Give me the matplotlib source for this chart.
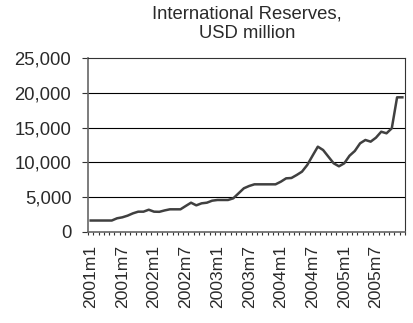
import matplotlib
matplotlib.use('Agg')
import matplotlib.pyplot as plt
from matplotlib.ticker import FuncFormatter, FixedLocator

plt.rcParams['font.family'] = ['Liberation Sans', 'DejaVu Sans']

# months 2001m1 .. 2005m12
months = [str(y) + 'm' + str(m) for y in range(2001, 2006) for m in range(1, 13)]
reserves = [1650, 1650, 1650, 1650, 1650, 1970, 2110, 2350, 2680, 2920,
            2920, 3200, 2920, 2900, 3100, 3260, 3260, 3260, 3740, 4210,
            3830, 4120, 4210, 4500, 4600, 4600, 4600, 4840, 5560, 6280,
            6610, 6850, 6850, 6850, 6850, 6850, 7230, 7710, 7760, 8190,
            8670, 9630, 10960, 12260, 11780, 10820, 9870, 9440, 9870, 10960,
            11640, 12740, 13220, 12980, 13550, 14410, 14180, 14900, 19350, 19350]
yticks = [0, 5000, 10000, 15000, 20000, 25000]
title = 'International Reserves,\nUSD million'

fig = plt.figure(figsize=(4.14, 3.23), dpi=100)
ax = fig.add_axes([88/414, 1-232/323, (405-88)/414, (232-58)/323])

x = list(range(len(months)))
ax.plot(x, reserves, color='#404040', lw=1.8, solid_joinstyle='round')

ax.set_xlim(-0.5, len(months)-0.5)
ax.set_ylim(0, 25000)
ax.set_yticks(yticks)
ax.yaxis.set_major_formatter(FuncFormatter(lambda v, p: format(int(v), ',')))
for v in yticks[1:-1]:
    ax.axhline(v, color='black', lw=0.8, zorder=0)

ax.set_xticks(x[::6])
ax.set_xticklabels(months[::6], rotation=90)
ax.xaxis.set_minor_locator(FixedLocator([i-0.5 for i in range(len(months)+1)]))
ax.tick_params(axis='x', which='major', length=0, pad=9, labelsize=12.6, labelcolor='#2a2a2a')
ax.tick_params(axis='x', which='minor', length=2.5, width=0.8, direction='out', color='#333333')
ax.tick_params(axis='y', length=4, width=0.8, pad=8, labelsize=13.3, color='#333333', labelcolor='#2a2a2a')

for s in ['left', 'bottom']:
    ax.spines[s].set_color('#666666')
    ax.spines[s].set_linewidth(1.2)
for s in ['top', 'right']:
    ax.spines[s].set_color('#333333')
    ax.spines[s].set_linewidth(0.8)

fig.text(247/414, 1-24/323, title, ha='center', va='center', fontsize=13.3,
         linespacing=1.2, color='#2a2a2a')

fig.savefig('out.png', dpi=100)
